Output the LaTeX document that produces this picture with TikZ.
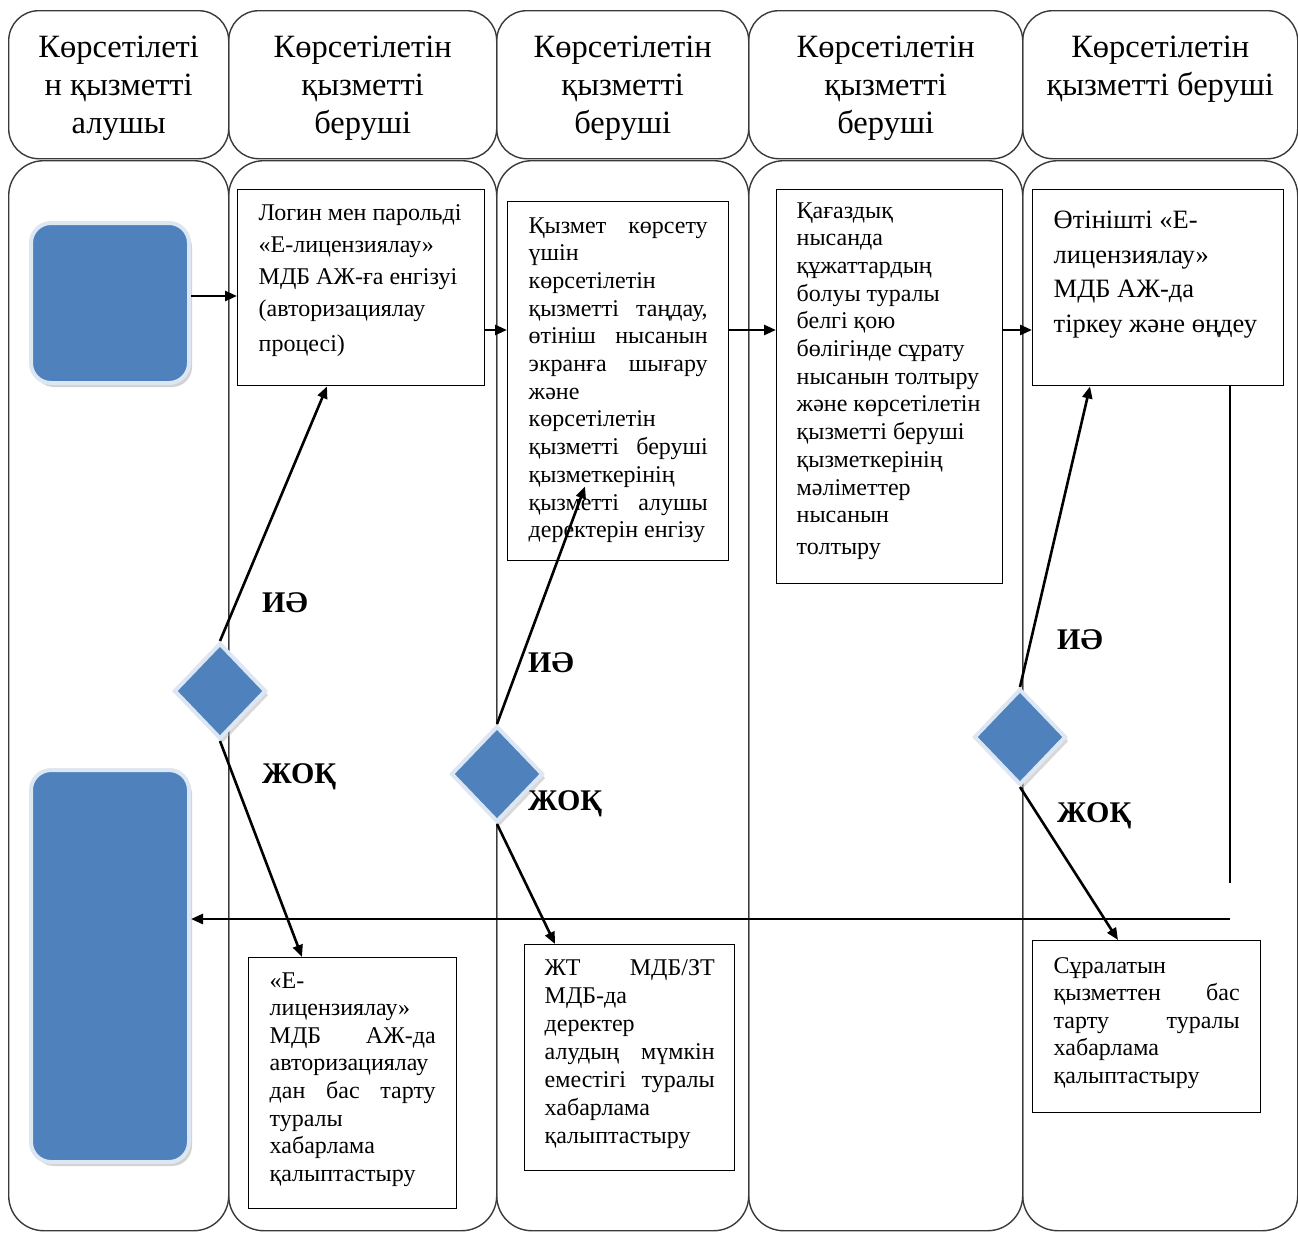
\documentclass[tikz,border=0pt]{standalone}
\usepackage{fontspec}
\setmainfont{Liberation Serif}
\usetikzlibrary{arrows.meta,shapes.geometric,shadows}
\definecolor{boxblue}{HTML}{4F81BD}
\definecolor{rimblue}{HTML}{DDE7F3}
\definecolor{lanegray}{HTML}{3A3A3A}
\newcommand\hdrtxt[2]{\parbox[c][148pt][t]{#1pt}{\centering\fontsize{32.5pt}{38pt}\selectfont\vspace*{25.6pt}#2}}
\newcommand\bxtxt[6]{\parbox[c][#2pt][t]{#1pt}{\fontsize{#3pt}{#4pt}\selectfont\raggedright\vspace*{#5pt}#6}}
\begin{document}
\begin{tikzpicture}[x=1pt,y=-1pt,
 lane/.style={draw=lanegray,line width=1.4pt,rounded corners=35pt,inner sep=0pt,anchor=north west,minimum height=1070pt},
 hdr/.style={draw=lanegray,line width=1.4pt,rounded corners=30pt,inner sep=0pt,anchor=north west,minimum height=148pt},
 pbox/.style={draw=black,line width=1.4pt,inner ysep=0pt,anchor=north west},
 blob/.style={fill=boxblue,draw=rimblue,line width=4pt,rounded corners=20pt,inner sep=0pt,drop shadow={shadow xshift=3pt,shadow yshift=-4pt,fill=black!35}},
 dia/.style={diamond,fill=boxblue,draw=rimblue,line width=4pt,inner sep=0pt,minimum width=92pt,minimum height=96pt,drop shadow={shadow xshift=3pt,shadow yshift=-4pt,fill=black!30}},
 arr/.style={line width=2.6pt,-{Triangle[length=12pt,width=10pt]}},
 plain/.style={line width=2.6pt},
 lbl/.style={font=\fontsize{30pt}{34pt}\selectfont\bfseries,inner sep=0pt,anchor=west}]
\useasboundingbox (0,0) rectangle (1298,1232);

% lanes
\node[lane,minimum width=220pt] (L1) at (8,160) {};
\node[lane,minimum width=268pt] (L2) at (228,160) {};
\node[lane,minimum width=252pt] (L3) at (496,160) {};
\node[lane,minimum width=274pt] (L4) at (748,160) {};
\node[lane,minimum width=275pt] (L5) at (1022,160) {};

% headers
\node[hdr,minimum width=220pt] (H1) at (8,10) {\hdrtxt{210}{Көрсетілеті\\н қызметті\\алушы}};
\node[hdr,minimum width=268pt] (H2) at (228,10) {\hdrtxt{250}{Көрсетілетін\\қызметті\\беруші}};
\node[hdr,minimum width=252pt] (H3) at (496,10) {\hdrtxt{240}{Көрсетілетін\\қызметті\\беруші}};
\node[hdr,minimum width=274pt] (H4) at (748,10) {\hdrtxt{260}{Көрсетілетін\\қызметті\\беруші}};
\node[hdr,minimum width=275pt] (H5) at (1022,10) {\hdrtxt{265}{Көрсетілетін\\қызметті беруші}};

% process boxes
\node[pbox,inner xsep=21pt] (A) at (237,189) {\bxtxt{205}{196}{24}{32}{14.6}{Логин мен парольді\\«Е-лицензиялау»\\МДБ АЖ-ға енгізуі\\(авторизациялау\\[3pt]процесі)}};
\node[pbox,inner xsep=21pt] (B) at (507,201) {\bxtxt{179}{359}{24}{27.7}{15.6}{Қызмет\hfill көрсету\\үшін\\көрсетілетін\\қызметті\hfill таңдау,\\өтініш\hfill нысанын\\экранға\hfill шығару\\және\\көрсетілетін\\қызметті\hfill беруші\\қызметкерінің\\қызметті\hfill алушы\\деректерін енгізу}};
\node[pbox,inner xsep=20pt] (C) at (776,189) {\bxtxt{186}{394}{24}{27.7}{12.6}{Қағаздық\\нысанда\\құжаттардың\\болуы туралы\\белгі қою\\бөлігінде сұрату\\нысанын толтыру\\және көрсетілетін\\қызметті беруші\\қызметкерінің\\мәліметтер\\нысанын\\[4pt]толтыру}};
\node[pbox,inner xsep=21pt] (D) at (1032,189) {\bxtxt{209}{196}{26.5}{34.5}{21.7}{Өтінішті «Е-\\лицензиялау»\\МДБ АЖ-да\\тіркеу және өңдеу}};
\node[pbox,inner xsep=21pt] (E) at (248,957) {\bxtxt{166}{251}{24}{27.6}{14.6}{«Е-\\лицензиялау»\\МДБ\hfill АЖ-да\\авторизациялау\\дан\hfill бас\hfill тарту\\туралы\\хабарлама\\қалыптастыру}};
\node[pbox,inner xsep=20pt] (F) at (524,944) {\bxtxt{170}{226}{24}{28}{14.6}{ЖТ\hfill МДБ/ЗТ\\МДБ-да\\деректер\\алудың\hfill мүмкін\\еместігі\hfill туралы\\хабарлама\\қалыптастыру}};
\node[pbox,inner xsep=21pt] (G) at (1032,940) {\bxtxt{186}{172}{24}{27.5}{16.6}{Сұралатын\\қызметтен\hfill бас\\тарту\hfill туралы\\хабарлама\\қалыптастыру}};

% start / end
\node[blob,minimum width=158pt,minimum height=160pt] (r1) at (110,303) {};
\node[blob,minimum width=158pt,minimum height=392pt] (r2) at (110,966) {};

% decisions
\node[dia] (d1) at (220,691) {};
\node[dia] (d2) at (497,774) {};
\node[dia] (d3) at (1020,737) {};

% connectors
\coordinate (lv0) at (0,296);
\coordinate (lv1) at (0,330);
\draw[arr] (r1.east |- lv0) -- (A.west |- lv0);
\draw[arr] (A.east |- lv1) -- (B.west |- lv1);
\draw[arr] (B.east |- lv1) -- (C.west |- lv1);
\draw[arr] (C.east |- lv1) -- (D.west |- lv1);
\draw[arr] (d1.north) -- ([xshift=90pt]A.south west);
\draw[arr] (d1.south) -- ([xshift=54pt]E.north west);
\draw[arr] (d2.north) -- ([xshift=78pt,yshift=75pt]B.south west);
\draw[arr] (d2.south) -- ([xshift=31pt]F.north west);
\draw[arr] (d3.north) -- ([xshift=58pt]D.south west);
\draw[arr] (d3.south) -- ([xshift=86pt]G.north west);
\coordinate (vend) at (1230,883);
\draw[plain] (D.south -| vend) -- (vend);
\coordinate (ret) at (1230,919);
\draw[arr] (ret) -- (r2.east |- ret);

% labels
\node[lbl] (y1) at (262,603) {ИӘ};
\node[lbl] (n1) at (262,777) {ЖОҚ};
\node[lbl] (y2) at (528,663) {ИӘ};
\node[lbl] (n2) at (528,804) {ЖОҚ};
\node[lbl] (y3) at (1057,640) {ИӘ};
\node[lbl] (n3) at (1057,816) {ЖОҚ};
\end{tikzpicture}
\end{document}
